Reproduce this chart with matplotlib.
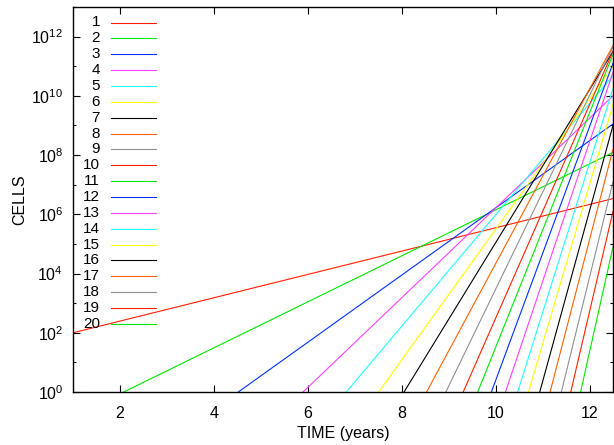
import math
import matplotlib
matplotlib.use('Agg')
import matplotlib.pyplot as plt
from matplotlib.ticker import FixedLocator, FuncFormatter

plt.rcParams['font.family'] = ['Liberation Sans', 'DejaVu Sans']
plt.rcParams['mathtext.fontset'] = 'custom'
plt.rcParams['mathtext.rm'] = 'Liberation Sans'

# each clone: straight line in log space
labels = [str(i) for i in range(1, 21)]
t_start = [1.0, 2.08, 4.52, 5.90, 6.82, 7.51, 8.05, 8.53, 8.94, 9.31,
           9.62, 9.91, 10.21, 10.47, 10.70, 10.94, 11.16, 11.40, 11.60, 11.81]
log_start = [2.0] + [0.0] * 19
t_end = 12.5
log_end = [6.53, 8.09, 9.05, 10.0, 10.68, 11.0, 11.5, 11.7, 11.65, 11.5,
           11.4, 11.1, 10.8, 10.25, 9.7, 9.0, 8.2, 7.1, 6.1, 4.9]

colors = ['#ff2000', '#00e800', '#0030ff', '#ff40ff', '#20ffff', '#ffff00',
          '#000000', '#ff6000', '#909090']

fig = plt.figure(figsize=(6.14, 4.45), dpi=100)
ax = fig.add_axes([73 / 614, 1 - 392 / 445, 540 / 614, 385 / 445])

for i in range(len(labels)):
    c = colors[i % len(colors)]
    ax.plot([t_start[i], t_end], [10 ** log_start[i], 10 ** log_end[i]],
            color=c, lw=0.8)

ax.set_yscale('log')
ax.set_xlim(1, 12.5)
ax.set_ylim(1, 1e13)

ax.xaxis.set_major_locator(FixedLocator([2, 4, 6, 8, 10, 12]))
ax.yaxis.set_major_locator(FixedLocator([10.0 ** k for k in range(0, 13, 2)]))
ax.yaxis.set_minor_locator(FixedLocator([10.0 ** k for k in range(1, 14, 2)]))
ax.yaxis.set_major_formatter(FuncFormatter(lambda v, p: r'$10^{%d}$' % round(math.log10(v))))
ax.yaxis.set_minor_formatter(FuncFormatter(lambda v, p: ''))

ax.tick_params(which='both', direction='in', top=True, right=True, labelsize=11.5)
ax.tick_params(which='major', length=5, width=0.8)
ax.tick_params(which='minor', length=2.5, width=0.8)
ax.tick_params(axis='y', pad=7)
ax.tick_params(axis='x', pad=10)
for s in ax.spines.values():
    s.set_linewidth(1.0)

ax.set_xlabel('TIME (years)', fontsize=11.5, labelpad=4)
ax.set_ylabel('CELLS', fontsize=11.5, labelpad=3)

# key, gnuplot style: number right aligned, sample to its right
for i, lab in enumerate(labels):
    y = 1 - (15.5 + i * 15.86) / 385
    ax.text(0.05, y, lab, transform=ax.transAxes, ha='right', va='center', fontsize=11)
    ax.plot([0.07, 0.153], [y, y], transform=ax.transAxes,
            color=colors[i % len(colors)], lw=0.8)

fig.savefig('out.png', dpi=100)
